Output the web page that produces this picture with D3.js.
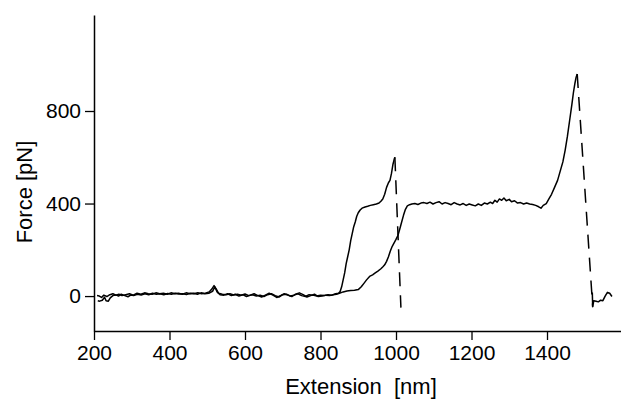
<!DOCTYPE html>
<html>
<head>
<meta charset="utf-8">
<script src="https://cdn.jsdelivr.net/npm/d3@7"></script>
<style>
  body { margin: 0; background: #fff; }
  svg text { font-family: "Liberation Sans", Arial, Helvetica, sans-serif; fill: #000; }
</style>
</head>
<body>
<svg width="621" height="405"></svg>
<script>
// extension [nm], force [pN]
const traceA = [
  [210,-20],[215,-22],[222,-18],[228,-5],[232,-20],[238,-22],[243,-8],[250,2],[258,5],[265,0],
  [272,8],[280,3],[290,-3],[298,5],[305,2],[315,8],[325,5],[335,10],[345,6],[355,12],
  [365,8],[375,10],[385,6],[395,11],[405,8],[415,12],[425,9],[435,10],[445,7],[455,12],
  [465,10],[475,14],[485,10],[495,12],[505,18],[512,30],[518,45],[524,30],[530,12],[540,8],
  [550,6],[560,10],[570,5],[580,8],[590,4],[600,9],[610,2],[620,6],[630,0],[640,4],
  [650,-2],[660,6],[670,10],[680,2],[690,-4],[700,6],[710,8],[720,0],[730,4],[740,10],
  [750,2],[760,-2],[770,6],[780,4],[790,0],[800,4],[810,2],[820,6],[830,4],[840,10],
  [848,12],[852,20],[856,40],[860,70],[864,100],[868,140],[872,170],[876,200],[880,240],[884,270],
  [888,300],[892,320],[896,345],[900,360],[905,372],[910,380],[918,385],[925,388],[932,392],[940,395],
  [948,398],[955,402],[960,410],[965,420],[970,440],[975,470],[980,490],[984,500],[988,530],[992,570],
  [995,590],[997,600]
];

const traceB = [
  [208,2],[214,0],[220,-6],[226,4],[234,-2],[242,6],[250,10],[258,4],[266,8],[274,2],
  [284,6],[294,10],[304,4],[314,12],[324,8],[334,14],[344,10],[354,8],[364,14],[374,10],
  [384,12],[394,8],[404,14],[414,10],[424,12],[434,8],[444,14],[454,10],[464,12],[474,8],
  [484,14],[494,10],[504,12],[514,20],[520,40],[526,18],[534,6],[544,4],[554,10],[564,2],
  [574,8],[584,0],[594,6],[604,-2],[614,4],[624,10],[634,2],[644,-4],[654,4],[664,12],
  [674,4],[684,-6],[694,2],[704,10],[714,4],[724,-2],[734,8],[744,14],[754,6],[764,-4],
  [774,2],[784,8],[794,-2],[804,0],[814,4],[824,2],[834,6],[842,8],[850,12],[860,18],
  [870,22],[880,24],[890,25],[900,28],[908,40],[915,55],[922,70],[930,85],[938,92],[945,100],
  [952,108],[960,118],[966,128],[970,135],[975,150],[980,170],[985,195],[990,215],[995,230],[1000,245],
  [1005,262],[1010,290],[1015,320],[1020,350],[1025,375],[1030,390],[1036,395],[1042,398],[1050,400],[1058,396],
  [1066,402],[1074,404],[1082,400],[1090,406],[1098,398],[1106,404],[1114,408],[1122,398],[1130,404],[1138,400],
  [1146,395],[1154,404],[1162,398],[1170,394],[1178,400],[1186,392],[1194,398],[1202,394],[1210,390],[1218,398],
  [1226,392],[1234,402],[1242,398],[1250,406],[1256,400],[1262,414],[1268,406],[1274,420],[1280,414],[1286,424],
  [1292,412],[1300,418],[1306,408],[1314,412],[1322,402],[1330,404],[1338,398],[1346,402],[1354,398],[1362,396],
  [1370,392],[1378,386],[1384,380],[1390,392],[1398,400],[1405,420],[1412,440],[1420,470],[1428,500],[1435,540],
  [1442,580],[1448,630],[1454,690],[1460,760],[1466,830],[1470,880],[1474,920],[1477,945],[1480,960]
];

const tailB = [
  [1520,15],[1521,-46],[1524,-20],[1530,-22],[1536,-25],[1542,-18],[1548,-20],[1554,0],[1560,16],[1566,12],[1572,-2]
];

// rupture jumps drawn dashed
const ruptures = [
  [[997,600],[1013,-50]],
  [[1480,960],[1521,-46]]
];

const xTicks = [200, 400, 600, 800, 1000, 1200, 1400];
const yTicks = [0, 400, 800];

const svg = d3.select("svg");

const x = d3.scaleLinear().domain([200, 1596]).range([94, 621]);
const y = d3.scaleLinear().domain([-151, 1215]).range([331, 15]);

// axes
const xAxis = svg.append("g")
  .attr("transform", `translate(0,${y(-151)})`)
  .call(d3.axisBottom(x).tickValues(xTicks).tickFormat(d3.format("d"))
    .tickSize(9).tickPadding(5).tickSizeOuter(0));

const yAxis = svg.append("g")
  .attr("transform", `translate(${x(200)},0)`)
  .call(d3.axisLeft(y).tickValues(yTicks).tickFormat(d3.format("d"))
    .tickSize(9).tickPadding(4).tickSizeOuter(0));

[xAxis, yAxis].forEach(a => {
  a.select(".domain").attr("stroke", "#000").attr("stroke-width", 1.5);
  a.selectAll(".tick line").attr("stroke", "#000").attr("stroke-width", 1.3);
  a.selectAll(".tick text").attr("font-size", "21px").attr("fill", "#000");
});

// traces
const line = d3.line().x(d => x(d[0])).y(d => y(d[1]));

[traceA, traceB, tailB].forEach(t => {
  svg.append("path")
    .attr("d", line(t))
    .attr("fill", "none")
    .attr("stroke", "#000")
    .attr("stroke-width", 1.5)
    .attr("stroke-linejoin", "round");
});

ruptures.forEach(r => {
  svg.append("path")
    .attr("d", line(r))
    .attr("fill", "none")
    .attr("stroke", "#000")
    .attr("stroke-width", 1.5)
    .attr("stroke-dasharray", "14,9");
});

// labels
svg.append("text")
  .attr("x", 361)
  .attr("y", 394)
  .attr("text-anchor", "middle")
  .attr("font-size", "22px")
  .style("white-space", "pre")
  .text("Extension  [nm]");

svg.append("text")
  .attr("transform", "translate(32,192) rotate(-90)")
  .attr("text-anchor", "middle")
  .attr("font-size", "22px")
  .text("Force [pN]");
</script>
</body>
</html>
